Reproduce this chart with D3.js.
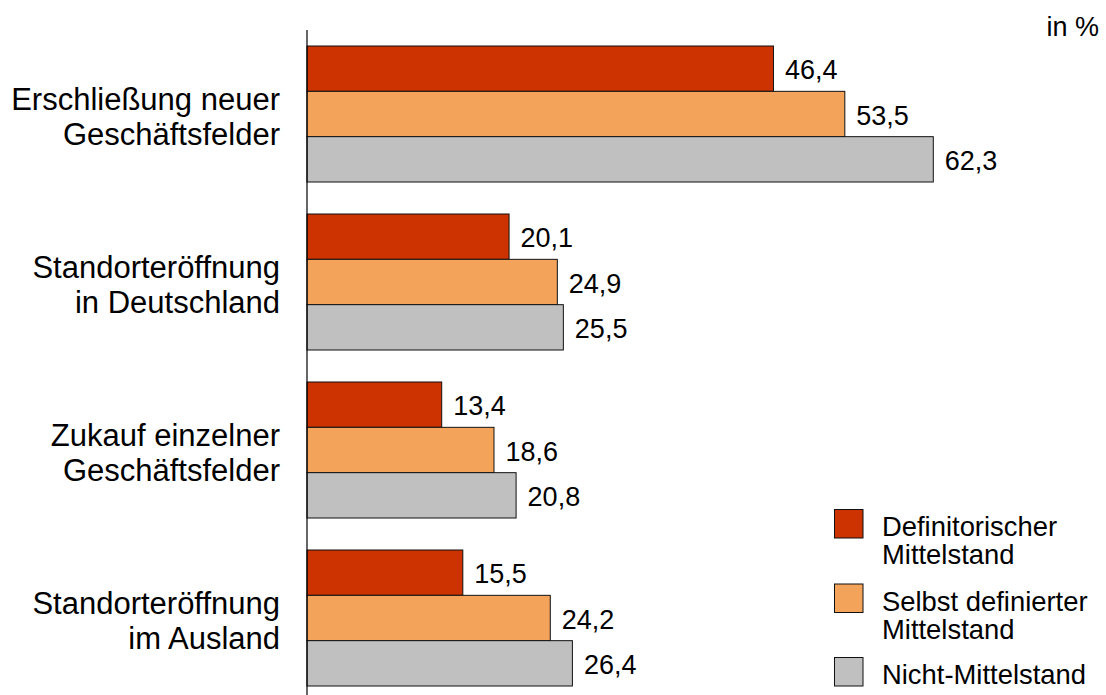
<!DOCTYPE html>
<html>
<head>
<meta charset="utf-8">
<script src="https://cdn.jsdelivr.net/npm/d3@7"></script>
<style>
  html, body { margin: 0; padding: 0; background: #ffffff; }
  svg { display: block; }
  text { font-family: "Liberation Sans", Arial, Helvetica, sans-serif; fill: #000; }
</style>
</head>
<body>
<svg id="chart" width="1106" height="695"></svg>
<script>
// ---- data ----
const categories = [
  ["Erschließung neuer", "Geschäftsfelder"],
  ["Standorteröffnung", "in Deutschland"],
  ["Zukauf einzelner", "Geschäftsfelder"],
  ["Standorteröffnung", "im Ausland"]
];
const seriesNames = ["Definitorischer Mittelstand", "Selbst definierter Mittelstand", "Nicht-Mittelstand"];
const legendLines = [["Definitorischer", "Mittelstand"], ["Selbst definierter", "Mittelstand"], ["Nicht-Mittelstand"]];
const definitorisch = [46.4, 20.1, 13.4, 15.5];
const selbstDefiniert = [53.5, 24.9, 18.6, 24.2];
const nichtMittelstand = [62.3, 25.5, 20.8, 26.4];
const colors = ["#CC3300", "#F4A35B", "#C0C0C0"];
const unitLabel = "in %";

const seriesValues = [definitorisch, selbstDefiniert, nichtMittelstand];
const fmt = v => d3.format(".1f")(v).replace(".", ",");

const svg = d3.select("#chart");

const x = d3.scaleLinear().domain([0, 70]).range([307, 1010.7]);
const catIdx = d3.range(categories.length);
const y0 = d3.scaleBand().domain(catIdx).range([30, 702])
  .paddingInner(32 / 168).paddingOuter(16 / 168);
const y1 = d3.scaleBand().domain(d3.range(seriesNames.length)).range([0, y0.bandwidth()]);

const groups = svg.append("g").selectAll("g.grp")
  .data(catIdx).join("g")
  .attr("class", "grp")
  .attr("transform", i => `translate(0,${y0(i)})`);

groups.selectAll("rect")
  .data(i => seriesValues.map((arr, s) => ({ s, v: arr[i] })))
  .join("rect")
  .attr("x", x(0))
  .attr("y", d => y1(d.s))
  .attr("width", d => x(d.v) - x(0))
  .attr("height", y1.bandwidth())
  .attr("fill", d => colors[d.s])
  .attr("stroke", "#111")
  .attr("stroke-width", 1);

groups.selectAll("text.val")
  .data(i => seriesValues.map((arr, s) => ({ s, v: arr[i] })))
  .join("text")
  .attr("class", "val")
  .attr("x", d => x(d.v) + 11.5)
  .attr("y", d => y1(d.s) + y1.bandwidth() / 2 + 10.5)
  .attr("font-size", 27)
  .text(d => fmt(d.v));

// category labels
const catText = svg.append("g").selectAll("text")
  .data(catIdx).join("text")
  .attr("text-anchor", "end")
  .attr("font-size", 31)
  .attr("y", i => y0(i) + y0.bandwidth() / 2);
catText.selectAll("tspan")
  .data(i => categories[i].map((t, k) => ({ t, k })))
  .join("tspan")
  .attr("x", 280)
  .attr("dy", d => d.k === 0 ? -4.5 : 35)
  .text(d => d.t);

// axis line
svg.append("line")
  .attr("x1", x(0)).attr("x2", x(0))
  .attr("y1", 30).attr("y2", 695)
  .attr("stroke", "#000").attr("stroke-width", 1.2);

// unit label
svg.append("text")
  .attr("x", 1099).attr("y", 36)
  .attr("text-anchor", "end")
  .attr("font-size", 27)
  .text(unitLabel);

// legend
const lg = svg.append("g").selectAll("g")
  .data(d3.range(seriesNames.length)).join("g")
  .attr("transform", (s, k) => `translate(834.5,${[509.5, 584, 657.5][k]})`);
lg.append("rect")
  .attr("width", 28.5).attr("height", 28.5)
  .attr("fill", s => colors[s])
  .attr("stroke", "#111").attr("stroke-width", 1);
const lt = lg.append("text")
  .attr("font-size", 27.4)
  .attr("y", 26.5);
lt.selectAll("tspan")
  .data(s => legendLines[s].map((t, k) => ({ t, k })))
  .join("tspan")
  .attr("x", 47.5)
  .attr("dy", d => d.k === 0 ? 0 : 28.3)
  .text(d => d.t);
</script>
</body>
</html>
